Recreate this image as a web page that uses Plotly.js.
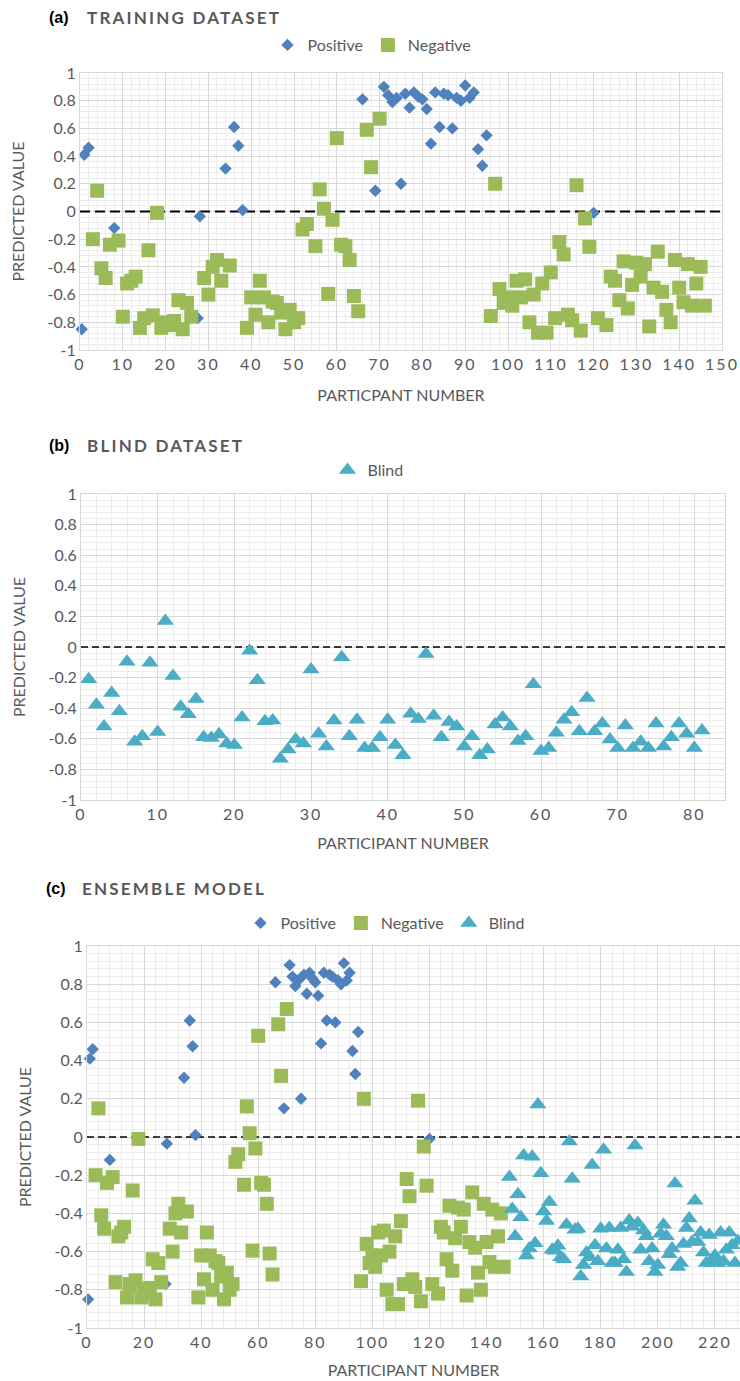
<!DOCTYPE html>
<html><head><meta charset="utf-8">
<script src="https://cdn.plot.ly/plotly-3.0.1.min.js"></script>
<style>
body{margin:0;background:#fff;}
.chart{position:absolute;left:0;width:740px;}
.xtick text{letter-spacing:2px;}
</style></head><body>
<div id="ca" class="chart" style="top:0;height:425px"></div>
<div id="cb" class="chart" style="top:425px;height:435px"></div>
<div id="cc" class="chart" style="top:860px;height:521px"></div>
<script>
// ---- data ----
const posX = [0.4, 1, 2, 8, 27.5, 28, 34, 36, 37, 38, 66, 69, 71, 72, 73, 74, 75, 76, 77, 78, 79, 80, 81, 82, 83, 84, 85, 86, 87, 88, 89, 90, 91, 92, 93, 94, 95, 120];
const posY = [-0.85, 0.41, 0.46, -0.12, -0.77, -0.035, 0.31, 0.61, 0.475, 0.01, 0.81, 0.15, 0.90, 0.84, 0.79, 0.82, 0.20, 0.85, 0.75, 0.86, 0.83, 0.81, 0.74, 0.49, 0.86, 0.61, 0.85, 0.84, 0.60, 0.82, 0.80, 0.91, 0.82, 0.86, 0.45, 0.33, 0.55, -0.01];

const negX = [3, 4, 5, 6, 7, 9, 10, 11, 12, 13, 14, 15, 16, 17, 18, 19, 20, 21, 22, 23, 24, 25, 26, 29, 30, 31, 32, 33, 35, 39, 40, 41, 42, 43, 44, 45, 46, 47, 48, 49, 50, 51, 52, 53, 55, 56, 57, 58, 59, 60, 61, 62, 63, 64, 65, 67, 68, 70,
  96, 97, 98, 99, 100, 101, 102, 103, 104, 105, 106, 107, 108, 109, 110, 111, 112, 113, 114, 115, 116, 117, 118, 119, 121, 123, 124, 125, 126, 127, 128, 129, 130, 131, 132, 133, 134, 135, 136, 137, 138, 139, 140, 141, 142, 143, 144, 145, 146];
const negY = [-0.20, 0.15, -0.41, -0.48, -0.24, -0.21, -0.76, -0.52, -0.50, -0.47, -0.84, -0.77, -0.28, -0.75, -0.01, -0.84, -0.80, -0.82, -0.79, -0.64, -0.85, -0.66, -0.76, -0.48, -0.60, -0.40, -0.35, -0.50, -0.39, -0.84, -0.62, -0.745, -0.50, -0.62, -0.80, -0.65, -0.66, -0.73, -0.85, -0.71, -0.80, -0.77, -0.13, -0.09, -0.25, 0.16, 0.02, -0.595, -0.06, 0.53, -0.24, -0.25, -0.35, -0.61, -0.72, 0.59, 0.32, 0.67,
  -0.755, 0.20, -0.56, -0.66, -0.62, -0.68, -0.50, -0.62, -0.49, -0.80, -0.60, -0.875, -0.52, -0.875, -0.44, -0.77, -0.22, -0.31, -0.745, -0.785, 0.19, -0.86, -0.05, -0.255, -0.77, -0.82, -0.47, -0.50, -0.64, -0.36, -0.70, -0.53, -0.37, -0.47, -0.38, -0.83, -0.55, -0.29, -0.58, -0.71, -0.80, -0.35, -0.55, -0.655, -0.38, -0.68, -0.52, -0.40, -0.68];

// blind participants 1..81
const blindNum = [1,2,3,4,5,6,7,8,9,10,11,12,13,14,15,16,17,18,19,20,21,22,23,24,25,26,27,28,29,30,31,32,33,34,35,36,37,38,39,40,41,42,43,44,45,46,47,48,49,50,51,52,53,54,55,56,57,58,59,60,61,62,63,64,65,66,67,68,69,70,71,72,73,74,75,76,77,78,79,80,81];
const blindY = [-0.21, -0.377, -0.52, -0.30, -0.42, -0.097, -0.62, -0.584, -0.103, -0.556, 0.17, -0.19, -0.39, -0.44, -0.34, -0.59, -0.595, -0.57, -0.63, -0.64, -0.46, -0.024, -0.218, -0.485, -0.48, -0.73, -0.67, -0.605, -0.63, -0.147, -0.567, -0.65, -0.48, -0.067, -0.584, -0.476, -0.66, -0.66, -0.59, -0.476, -0.64, -0.707, -0.437, -0.47, -0.045, -0.45, -0.59, -0.49, -0.52, -0.65, -0.584, -0.707, -0.67, -0.506, -0.46, -0.52, -0.614, -0.584, -0.244, -0.68, -0.66, -0.56, -0.476, -0.427, -0.55, -0.334, -0.55, -0.50, -0.605, -0.66, -0.513, -0.66, -0.62, -0.66, -0.50, -0.65, -0.59, -0.50, -0.567, -0.66, -0.545];
const ensembleOffset = 147; // blind participants follow the 147 training participants

const yTickVals = [1, 0.8, 0.6, 0.4, 0.2, 0, -0.2, -0.4, -0.6, -0.8, -1];
const yTickText = ['1', '0.8', '0.6', '0.4', '0.2', '0', '-0.2', '-0.4', '-0.6', '-0.8', '-1'];
const threshold = 0; // dashed decision line

// ---- styling ----
const FONT = 'Lato, "Open Sans", sans-serif';
const GRAY = '#595959';
const C_POS = '#4F81BD', C_NEG = '#9BBB59', C_BLIND = '#4BACC6';

function posTrace() { return {type:'scatter', mode:'markers', name:'Positive', x:posX, y:posY, cliponaxis:false,
  marker:{symbol:'diamond', size:9.5, color:C_POS, line:{width:0}}}; }
function negTrace() { return {type:'scatter', mode:'markers', name:'Negative', x:negX, y:negY, cliponaxis:false,
  marker:{symbol:'square', size:14, color:C_NEG, line:{width:0}}}; }
function blindTrace(xs) { return {type:'scatter', mode:'markers', name:'Blind', x:xs, y:blindY, cliponaxis:false,
  marker:{symbol:'triangle-up', size:15, color:C_BLIND, line:{width:0}}}; }
function zeroTrace(xr, w, dash) { return {type:'scatter', mode:'lines', x:xr, y:[threshold, threshold], showlegend:false,
  hoverinfo:'skip', cliponaxis:false, line:{color:'#000', width:w, dash:dash}}; }

function layout(o) {
  const W = 740, H = o.height;
  const pw = W - o.l - o.r, ph = H - o.t - o.b;
  const px = v => (v - o.l) / pw;
  const py = v => (H - o.b - v) / ph;
  return {
    width: W, height: H,
    margin: {l:o.l, r:o.r, t:o.t, b:o.b, pad:0},
    paper_bgcolor:'#fff', plot_bgcolor:'#fff',
    font: {family: FONT, color: GRAY, size: 16},
    showlegend: true,
    legend: {orientation:'h', xref:'container', x:o.legX/W, xanchor:'center', yref:'container', y:1 - o.legY/H, yanchor:'middle',
      font:{family:FONT, size:16, color:GRAY}, itemwidth:30, tracegroupgap:0, bgcolor:'rgba(0,0,0,0)'},
    xaxis: {range:o.xrange, tick0:0, dtick:o.xdtick, showgrid:true, gridcolor:'#d9d9d9', gridwidth:1,
      minor:{dtick:o.xminor, tick0:0, showgrid:true, gridcolor:'#ececec', gridwidth:1},
      zeroline:false, showline:true, linecolor:'#d9d9d9', linewidth:1, mirror:o.mirrorX, ticks:'',
      tickfont:{family:FONT, size:16, color:GRAY}, automargin:false, fixedrange:true,
      title:{text:o.xtitle, font:{family:FONT, size:16, color:GRAY}, standoff:o.xstand}},
    yaxis: {range:[-1, 1], tickmode:'array', tickvals:yTickVals, ticktext:yTickText, showgrid:true, gridcolor:'#d9d9d9', gridwidth:1,
      minor:{dtick:0.04, tick0:0, showgrid:true, gridcolor:'#ececec', gridwidth:1},
      zeroline:false, showline:true, linecolor:'#d9d9d9', linewidth:1, mirror:o.mirrorY, ticks:'',
      tickfont:{family:FONT, size:16, color:GRAY}, automargin:false, fixedrange:true,
      title:{text:'PREDICTED VALUE', font:{family:FONT, size:16, color:GRAY}, standoff:o.ystand}},
    annotations: [
      {xref:'paper', yref:'paper', x:px(o.labX), y:py(o.titleY), xanchor:'left', yanchor:'middle', showarrow:false,
        text:'<b>' + o.label + '</b>', font:{family:'"Liberation Sans", Arial, sans-serif', size:16, color:'#000'}},
      {xref:'paper', yref:'paper', x:px(o.titX), y:py(o.titleY), xanchor:'left', yanchor:'middle', showarrow:false,
        text:'<b><span style="letter-spacing:2.2px">' + o.title + '</span></b>', font:{family:FONT, size:17, color:GRAY}}
    ]
  };
}

const cfg = {staticPlot:true, displayModeBar:false};

const xrA = [0, 150], xrB = [0, 84], xrC = [0, 228.8];

Plotly.newPlot('ca', [zeroTrace(xrA, 2, '10px,5px'), posTrace(), negTrace()], layout({
  height:425, l:80, r:18, t:72.5, b:75, xrange:xrA, xdtick:10, xminor:2, mirrorX:true, mirrorY:true,
  xtitle:'PARTICPANT NUMBER', xstand:17, ystand:18,
  label:'(a)', labX:47, titX:85, title:'TRAINING DATASET', titleY:17, legX:372, legY:45
}), cfg);

Plotly.newPlot('cb', [zeroTrace([0, 84.7], 1.5, '7px,4px'), blindTrace(blindNum)], layout({
  height:435, l:80.7, r:14.5, t:69, b:60, xrange:xrB, xdtick:10, xminor:2, mirrorX:true, mirrorY:true,
  xtitle:'PARTICIPANT NUMBER', xstand:15, ystand:18,
  label:'(b)', labX:47, titX:85, title:'BLIND DATASET', titleY:21, legX:368, legY:45
}), cfg);

Plotly.newPlot('cc', [zeroTrace(xrC, 1.5, '7px,4px'), posTrace(), negTrace(), blindTrace(blindNum.map(n => n + ensembleOffset))], layout({
  height:521, l:86.7, r:0, t:86, b:53, xrange:xrC, xdtick:20, xminor:4, mirrorX:true, mirrorY:false,
  xtitle:'PARTICIPANT NUMBER', xstand:14, ystand:18,
  label:'(c)', labX:44, titX:80, title:'ENSEMBLE MODEL', titleY:29, legX:385, legY:63
}), cfg);
</script>
</body></html>
